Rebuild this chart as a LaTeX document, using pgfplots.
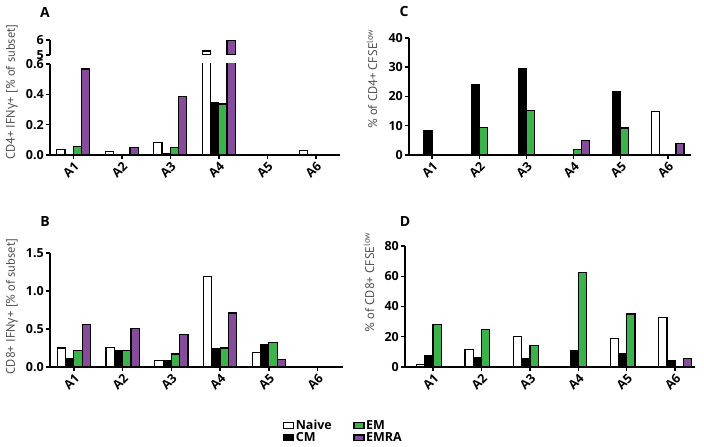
\documentclass[border=0pt]{standalone}
\usepackage{fontspec}
\setmainfont{PT Sans}
\newfontfamily\gfont{Open Sans}
\newfontfamily\osfont{Open Sans}
\usepackage{pgfplots}
\pgfplotsset{compat=1.18}
\definecolor{emgreen}{RGB}{59,178,74}
\definecolor{emra}{RGB}{135,75,155}
\definecolor{labgray}{RGB}{80,80,80}
\newcommand\tf{\osfont\fontsize{12.5}{14}\selectfont\bfseries}

\pgfplotsset{
  legbox/.style={legend image code/.code={\draw[##1,line width=1.2pt] (0pt,-2.8pt) rectangle (10pt,2.8pt);}},
  sN/.style={fill=white, draw=black, line width=1.2pt, bar shift=-0.255, legbox},
  sC/.style={fill=black, draw=black, line width=1.2pt, bar shift=-0.085, legbox},
  sE/.style={fill=emgreen, draw=black, line width=1.2pt, bar shift=0.085, legbox},
  sR/.style={fill=emra, draw=black, line width=1.2pt, bar shift=0.255, legbox},
  panel/.style={
    scale only axis, anchor=south west,
    ybar, bar width=0.17,
    axis lines=left, axis line style={-, line width=1.5pt},
    xtick={0,...,5}, xticklabels={\tf A1,\tf A2,\tf A3,\tf A4,\tf A5,\tf A6},
    tick align=outside, major tick length=4pt,
    every tick/.style={black, line width=1.5pt},
    yticklabel style={inner sep=2pt},
    xticklabel style={rotate=45, anchor=north east, inner sep=1pt},
    ylabel style={text=labgray, anchor=center, font=\fontsize{12.5}{14}\selectfont},
    ymin=0,
  },
}

\begin{document}
\begin{tikzpicture}
\useasboundingbox (0,0) rectangle (704pt,447pt);

% A, upper part of the broken axis
\begin{axis}[panel, at={(50pt,392pt)}, width=290pt, height=15pt,
  xmin=-0.48, xmax=5.5, ymin=5, ymax=6,
  ytick={5,6}, yticklabels={\tf 5,\tf 6},
  xtick=\empty, x axis line style={draw=none}]
\addplot[sN] coordinates {(3,5.27)};
\addplot[sR] coordinates {(3,5.96)};
\end{axis}

% A, lower part
\begin{axis}[panel, at={(50pt,292pt)}, width=290pt, height=91pt,
  xmin=-0.48, xmax=5.5, ymax=0.6,
  ytick={0,0.2,0.4,0.6}, yticklabels={\tf 0.0,\tf 0.2,\tf 0.4,\tf 0.6},
  ylabel={CD4+ IFN{\gfont γ}+ [\% of subset]},
  ylabel style={at={(axis description cs:-0.131,0.69)}}]
\addplot[sN] coordinates {(0,0.037) (1,0.022) (2,0.083) (3,5.27) (5,0.029)};
\addplot[sC] coordinates {(2,0.007) (3,0.347)};
\addplot[sE] coordinates {(0,0.055) (2,0.048) (3,0.336)};
\addplot[sR] coordinates {(0,0.567) (1,0.05) (2,0.385) (3,5.96)};
\end{axis}

% C
\begin{axis}[panel, at={(409pt,292pt)}, width=282pt, height=117pt,
  xmin=-0.49, xmax=5.49, ymax=40,
  ytick={0,10,20,30,40}, yticklabels={\tf 0,\tf 10,\tf 20,\tf 30,\tf 40},
  ylabel={\% of  CD4+ CFSE\textsuperscript{low}},
  ylabel style={at={(axis description cs:-0.131,0.65)}}]
\addplot[sN] coordinates {(5,14.8)};
\addplot[sC] coordinates {(0,8.3) (1,24.0) (2,29.7) (4,21.6)};
\addplot[sE] coordinates {(0,0.15) (1,9.5) (2,15.1) (3,1.9) (4,9.2)};
\addplot[sR] coordinates {(0,0.15) (3,4.9) (5,4.0)};
\end{axis}

% B
\begin{axis}[panel, at={(50pt,80pt)}, width=293pt, height=114pt,
  xmin=-0.49, xmax=5.52, ymax=1.5,
  ytick={0,0.5,1,1.5}, yticklabels={\tf 0.0,\tf 0.5,\tf 1.0,\tf 1.5},
  ylabel={CD8+ IFN{\gfont γ}+ [\% of subset]},
  ylabel style={at={(axis description cs:-0.13,0.53)}},
  legend columns=2, transpose legend, legend cell align=left,
  legend style={draw=none, fill=none, at={(axis description cs:0.795,-0.45)},
    anchor=north west, inner sep=0pt, row sep=-1.5pt,
    nodes={inner sep=1.5pt},
    /tikz/every even column/.append style={column sep=20pt}}]
\addplot[sN] coordinates {(0,0.25) (1,0.26) (2,0.09) (3,1.19) (4,0.19)};
\addplot[sC] coordinates {(0,0.105) (1,0.22) (2,0.083) (3,0.24) (4,0.30)};
\addplot[sE] coordinates {(0,0.22) (1,0.22) (2,0.17) (3,0.25) (4,0.32)};
\addplot[sR] coordinates {(0,0.56) (1,0.51) (2,0.43) (3,0.71) (4,0.10)};
\legend{\tf Naive,\tf CM,\tf EM,\tf EMRA}
\end{axis}

% D
\begin{axis}[panel, at={(405pt,80pt)}, width=290pt, height=121pt,
  xmin=-0.58, xmax=5.41, ymax=80,
  ytick={0,20,40,60,80}, yticklabels={\tf 0,\tf 20,\tf 40,\tf 60,\tf 80},
  ylabel={\% of  CD8+ CFSE\textsuperscript{low}},
  ylabel style={at={(axis description cs:-0.124,0.70)}}]
\addplot[sN] coordinates {(0,1.5) (1,11.7) (2,20.1) (4,19.0) (5,32.7)};
\addplot[sC] coordinates {(0,7.5) (1,6.2) (2,5.7) (3,11.0) (4,9.1) (5,4.2)};
\addplot[sE] coordinates {(0,28.3) (1,24.8) (2,14.4) (3,62.5) (4,35.1)};
\addplot[sR] coordinates {(5,5.7)};
\end{axis}

\node[font=\osfont\bfseries\fontsize{14}{16}\selectfont] at (45pt,435pt) {A};
\node[font=\osfont\bfseries\fontsize{14}{16}\selectfont] at (404pt,435pt) {C};
\node[font=\osfont\bfseries\fontsize{14}{16}\selectfont] at (45pt,225pt) {B};
\node[font=\osfont\bfseries\fontsize{14}{16}\selectfont] at (405pt,225pt) {D};
\end{tikzpicture}
\end{document}
